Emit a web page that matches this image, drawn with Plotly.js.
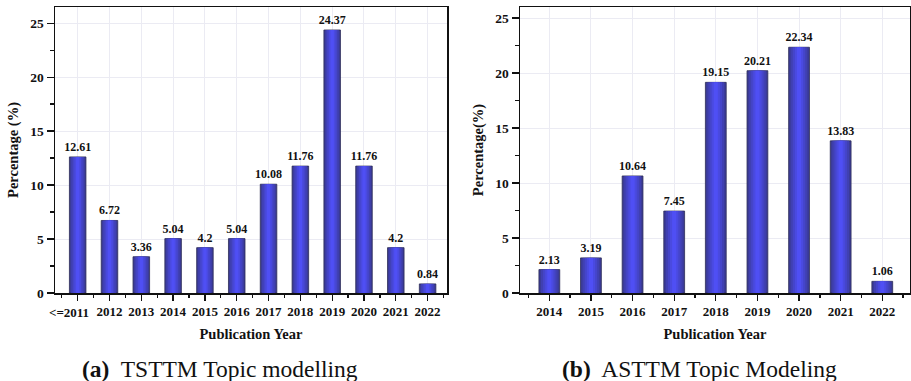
<!DOCTYPE html>
<html><head><meta charset="utf-8">
<script src="https://cdn.plot.ly/plotly-3.0.1.min.js"></script>
<style>html,body{margin:0;padding:0;background:#fff}#chart{width:911px;height:381px}</style>
</head><body><div id="chart"></div>
<script>
// ---- data ----
const yearsA = ['<=2011','2012','2013','2014','2015','2016','2017','2018','2019','2020','2021','2022'];
const valuesA = [12.61, 6.72, 3.36, 5.04, 4.2, 5.04, 10.08, 11.76, 24.37, 11.76, 4.2, 0.84];
const yearsB = ['2014','2015','2016','2017','2018','2019','2020','2021','2022'];
const valuesB = [2.13, 3.19, 10.64, 7.45, 19.15, 20.21, 22.34, 13.83, 1.06];
const captionA = '<b>(a)</b>  TSTTM Topic modelling';
const captionB = '<b>(b)</b>  ASTTM Topic Modeling';
const yTitleA = 'Percentage (%)';
const yTitleB = 'Percentage(%)';
const xTitle = 'Publication Year';

// ---- style ----
const SERIF = 'Liberation Serif';
const shades = ['#3b3b98','#4040b2','#4545ca','#4a4ae0','#4f4ff4'];
const fracs = [1.0, 0.8, 0.6, 0.4, 0.2];

function layers(x, y, xa, ya, fullW) {
  return shades.map((c, i) => ({
    type: 'bar', x: x, y: y, xaxis: xa, yaxis: ya,
    width: fullW * fracs[i],
    marker: { color: c, line: { color: i === 0 ? '#2c2c55' : c, width: i === 0 ? 0.8 : 0 } },
    text: i === 0 ? y.map(String) : undefined,
    textposition: i === 0 ? 'outside' : 'none',
    constraintext: 'none',
    textfont: { family: SERIF, size: 12, color: '#111', weight: 'bold' },
    cliponaxis: false, hoverinfo: 'skip', showlegend: false
  }));
}
function ghost(x, y, xa, ya) {
  return { type: 'bar', x: x, y: y, xaxis: xa, yaxis: ya, marker: { color: 'rgba(0,0,0,0)' },
           hoverinfo: 'skip', showlegend: false };
}

const traces = [].concat(
  layers(yearsA, valuesA, 'x', 'y', 0.52),
  layers(yearsB, valuesB, 'x2', 'y2', 0.5),
  [ghost(yearsA, valuesA, 'x3', 'y'), ghost(yearsB, valuesB, 'x4', 'y2')]
);

const xTickFont = { family: SERIF, size: 13, color: '#111', weight: 'bold' };
const yTickFont = { family: SERIF, size: 13.5, color: '#111', weight: 'bold' };
const titleFont = { family: SERIF, size: 14.5, color: '#111', weight: 'bold' };
const grid = '#ebebf3';

function xAxis(dom, rng, anchor, cats, hideFirst) {
  return { domain: dom, range: rng, anchor: anchor, type: 'category',
    tickmode: 'array', tickvals: cats,
    ticktext: cats.map((t, i) => (hideFirst && i === 0) ? ' ' : t),
    showline: true, linecolor: '#111', linewidth: 1.5, mirror: true,
    ticks: 'outside', ticklen: 6, tickwidth: 1.3, tickcolor: '#111',
    showgrid: true, gridcolor: grid, gridwidth: 1, zeroline: false,
    tickfont: xTickFont, tickangle: 0,
    title: { text: xTitle, font: titleFont, standoff: 11 } };
}
function minorX(over, dom, rng, anchor) {
  return { domain: dom, range: rng, anchor: anchor, overlaying: over, type: 'category',
    tickson: 'boundaries', ticks: 'outside', ticklen: 3.5, tickwidth: 1.3, tickcolor: '#111',
    showticklabels: false, showline: false, showgrid: false, zeroline: false };
}
function yAxis(rng, anchor, title) {
  return { domain: [0, 1], range: rng, anchor: anchor,
    showline: true, linecolor: '#111', linewidth: 1.5, mirror: true,
    ticks: 'outside', ticklen: 7, tickwidth: 1.3, tickcolor: '#111',
    tick0: 0, dtick: 5,
    minor: { dtick: 2.5, ticks: 'outside', ticklen: 4, tickwidth: 1.3, tickcolor: '#111', showgrid: false },
    showgrid: true, gridcolor: grid, gridwidth: 1, zeroline: false,
    tickfont: yTickFont,
    title: { text: title, font: titleFont, standoff: 8 } };
}

const domA = [0, 0.4585], domB = [0.5439, 1];
const rngA = [-0.713, 11.61], rngB = [-0.704, 8.666];

const layout = {
  width: 911, height: 381,
  margin: { l: 55, r: 1, t: 7, b: 88 },
  paper_bgcolor: '#fff', plot_bgcolor: '#fff',
  barmode: 'overlay', showlegend: false,
  font: { family: SERIF },
  xaxis: xAxis(domA, rngA, 'y', yearsA, true),
  xaxis2: xAxis(domB, rngB, 'y2', yearsB, false),
  xaxis3: minorX('x', domA, rngA, 'y'),
  xaxis4: minorX('x2', domB, rngB, 'y2'),
  yaxis: yAxis([0, 26.5], 'x', yTitleA),
  yaxis2: yAxis([0, 26], 'x2', yTitleB),
  annotations: [
    { text: yearsA[0], xref: 'x', yref: 'paper', x: yearsA[0], y: -0.067, xshift: -9,
      xanchor: 'center', yanchor: 'middle', showarrow: false, font: xTickFont },
    { text: captionA, xref: 'paper', yref: 'paper', x: 0.193, y: -0.264, xanchor: 'center', yanchor: 'middle',
      showarrow: false, font: { family: SERIF, size: 23.5, color: '#111' } },
    { text: captionB, xref: 'paper', yref: 'paper', x: 0.754, y: -0.264, xanchor: 'center', yanchor: 'middle',
      showarrow: false, font: { family: SERIF, size: 23.5, color: '#111' } }
  ]
};

Plotly.newPlot('chart', traces, layout, { staticPlot: true, displayModeBar: false });
</script></body></html>
